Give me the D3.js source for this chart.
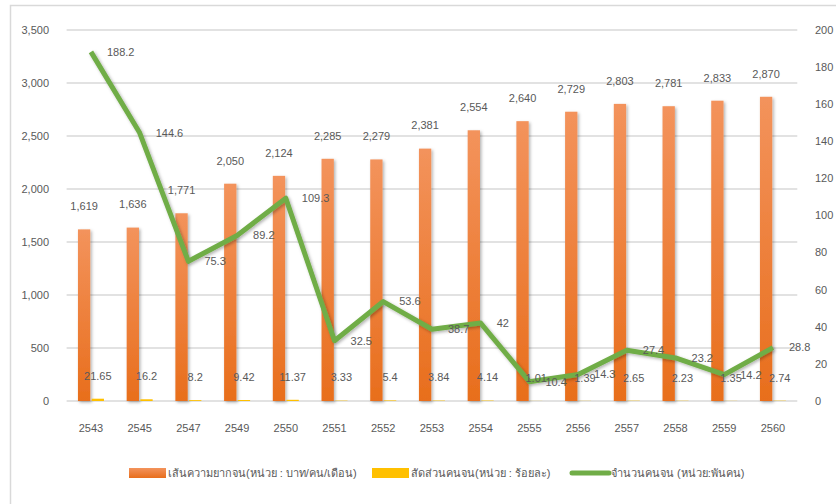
<!DOCTYPE html>
<html>
<head>
<meta charset="utf-8">
<script src="https://cdn.jsdelivr.net/npm/d3@7"></script>
<style>
  body { margin: 0; background: #fff; }
  text { font-family: "Liberation Sans", Arial, sans-serif; fill: #595959; }
</style>
</head>
<body>
<svg id="chart" width="836" height="504"></svg>
<script>
// data
var years = ["2543", "2545", "2547", "2549", "2550", "2551", "2552", "2553", "2554", "2555", "2556", "2557", "2558", "2559", "2560"];
var povertyLine = [1619, 1636, 1771, 2050, 2124, 2285, 2279, 2381, 2554, 2640, 2729, 2803, 2781, 2833, 2870];
var povertyRatio = [21.65, 16.2, 8.2, 9.42, 11.37, 3.33, 5.4, 3.84, 4.14, 1.01, 1.39, 2.65, 2.23, 1.35, 2.74];
var poorCount = [188.2, 144.6, 75.3, 89.2, 109.3, 32.5, 53.6, 38.7, 42, 10.4, 14.3, 27.4, 23.2, 14.2, 28.8];
var leftTicks = [0, 500, 1000, 1500, 2000, 2500, 3000, 3500];
var rightTicks = [0, 20, 40, 60, 80, 100, 120, 140, 160, 180, 200];
var legendLabels = ["เส้นความยากจน(หน่วย : บาท/คน/เดือน)", "สัดส่วนคนจน(หน่วย : ร้อยละ)", "จำนวนคนจน (หน่วย:พันคน)"];

var svg = d3.select("#chart");

var rows = years.map(function (y, i) {
    return { year: y, line: povertyLine[i], ratio: povertyRatio[i], count: poorCount[i] };
});

var x = d3.scaleBand().domain(years).range([66.6, 797.3]);
var x1 = d3.scaleBand().domain(["line", "ratio"]).range([-13, 13]).paddingInner(0.1);
var yL = d3.scaleLinear().domain([0, 3500]).range([401, 30]);
var yR = d3.scaleLinear().domain([0, 200]).range([401, 30]);
function cx(d) { return x(d.year) + x.bandwidth() / 2; }

var defs = svg.append("defs");
var grad = defs.append("linearGradient").attr("id", "barGrad")
    .attr("x1", 0).attr("y1", 0).attr("x2", 0).attr("y2", 1);
grad.append("stop").attr("offset", "0%").attr("stop-color", "#F3935C");
grad.append("stop").attr("offset", "100%").attr("stop-color", "#E86E1C");
var shadow = defs.append("filter").attr("id", "shadow")
    .attr("x", "-50%").attr("y", "-20%").attr("width", "200%").attr("height", "140%");
shadow.append("feDropShadow").attr("dx", 1.5).attr("dy", 1.5)
    .attr("stdDeviation", 1.5).attr("flood-color", "#000").attr("flood-opacity", 0.3);

// outer frame
svg.append("rect").attr("x", 10.5).attr("y", 5.5).attr("width", 900).attr("height", 600)
    .attr("fill", "none").attr("stroke", "#D9D9D9").attr("stroke-width", 1.5);

// gridlines + left axis
svg.append("g").selectAll("line")
    .data(leftTicks)
    .enter().append("line")
    .attr("x1", 66.6).attr("x2", 797.3)
    .attr("y1", function (d) { return yL(d); })
    .attr("y2", function (d) { return yL(d); })
    .attr("stroke", "#D9D9D9").attr("stroke-width", 1.5);

svg.append("g").selectAll("text")
    .data(leftTicks)
    .enter().append("text")
    .attr("x", 49).attr("y", function (d) { return yL(d); })
    .attr("dy", "0.35em").attr("text-anchor", "end").attr("font-size", 11)
    .text(d3.format(","));

svg.append("g").selectAll("text")
    .data(rightTicks)
    .enter().append("text")
    .attr("x", 815).attr("y", function (d) { return yR(d); })
    .attr("dy", "0.35em").attr("text-anchor", "start").attr("font-size", 11)
    .text(function (d) { return d; });

svg.append("g").selectAll("text")
    .data(years)
    .enter().append("text")
    .attr("x", function (d) { return x(d) + x.bandwidth() / 2; })
    .attr("y", 428).attr("dy", "0.35em").attr("text-anchor", "middle").attr("font-size", 11)
    .text(function (d) { return d; });

// bars
var bars = svg.append("g");
bars.selectAll(".bl")
    .data(rows)
    .enter().append("rect")
    .attr("x", function (d) { return cx(d) + x1("line"); })
    .attr("width", x1.bandwidth())
    .attr("y", function (d) { return yL(d.line); })
    .attr("height", function (d) { return yL(0) - yL(d.line); })
    .attr("fill", "url(#barGrad)")
    .attr("filter", "url(#shadow)");
bars.selectAll(".br")
    .data(rows)
    .enter().append("rect")
    .attr("x", function (d) { return cx(d) + x1("ratio"); })
    .attr("width", x1.bandwidth())
    .attr("y", function (d) { return yL(d.ratio); })
    .attr("height", function (d) { return yL(0) - yL(d.ratio); })
    .attr("fill", "#FFC000");

// green line
var line = d3.line()
    .x(function (d) { return cx(d); })
    .y(function (d) { return yR(d.count); });
svg.append("path")
    .datum(rows)
    .attr("d", line)
    .attr("fill", "none")
    .attr("stroke", "#70AD47")
    .attr("stroke-width", 5)
    .attr("stroke-linejoin", "round")
    .attr("filter", "url(#shadow)");

// labels
var labels = svg.append("g").attr("font-size", 11);
labels.selectAll(".ll")
    .data(rows)
    .enter().append("text")
    .attr("x", function (d) { return cx(d) + x1("line") + x1.bandwidth() / 2; })
    .attr("y", function (d) { return yL(d.line) - 23; })
    .attr("dy", "0.35em").attr("text-anchor", "middle")
    .text(function (d) { return d3.format(",")(d.line); });
labels.selectAll(".lr")
    .data(rows)
    .enter().append("text")
    .attr("x", function (d) { return cx(d) + x1("ratio") + x1.bandwidth() / 2; })
    .attr("y", function (d) { return yL(d.ratio) - 23; })
    .attr("dy", "0.35em").attr("text-anchor", "middle")
    .text(function (d) { return d.ratio; });
labels.selectAll(".lc")
    .data(rows)
    .enter().append("text")
    .attr("x", function (d) { return cx(d) + 16; })
    .attr("y", function (d) { return yR(d.count); })
    .attr("dy", "0.35em").attr("text-anchor", "start")
    .text(function (d) { return d.count; });

// legend
var legend = svg.append("g").attr("font-size", 11);
var legX = [129, 372, 572];
legend.append("rect").attr("x", legX[0]).attr("y", 468).attr("width", 37).attr("height", 10)
    .attr("fill", "url(#barGrad)");
legend.append("rect").attr("x", legX[1]).attr("y", 468).attr("width", 37).attr("height", 10)
    .attr("fill", "#FFC000");
legend.append("line").attr("x1", legX[2]).attr("x2", legX[2] + 37).attr("y1", 473).attr("y2", 473)
    .attr("stroke", "#70AD47").attr("stroke-width", 5).attr("stroke-linecap", "round");
legend.selectAll("text")
    .data(legendLabels)
    .enter().append("text")
    .attr("x", function (d, i) { return legX[i] + 39; })
    .attr("y", 473).attr("dy", "0.35em")
    .text(function (d) { return d; });
</script>
</body>
</html>
